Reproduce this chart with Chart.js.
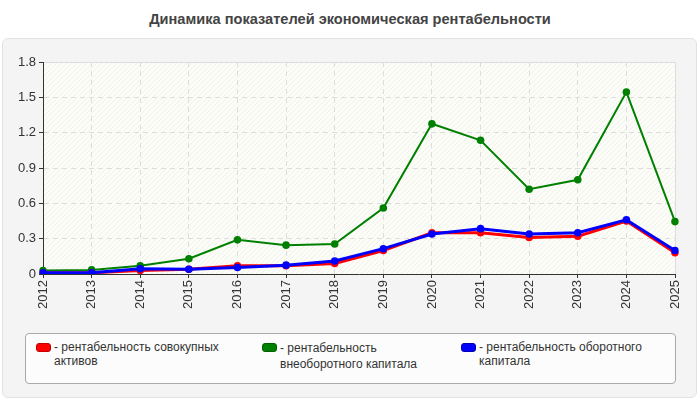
<!DOCTYPE html>
<html>
<head>
<meta charset="utf-8">
<script src="https://cdn.jsdelivr.net/npm/chart.js@4"></script>
<style>
    body { margin: 0; background: #fff; font-family: "Liberation Sans", Arial, sans-serif; }
    #wrap { position: relative; width: 700px; height: 400px; overflow: hidden; }
    #title { position: absolute; top: 11px; left: 0; width: 700px; text-align: center;
        font-family: "Liberation Sans Narrow", "Liberation Sans", sans-serif;
        font-weight: bold; font-size: 14.6px; color: #444; }
    #panel { position: absolute; left: 2px; top: 38px; width: 693px; height: 358px;
        background: #f4f4f4; border: 1px solid #e2e2e2; border-radius: 6px; }
    #chartBox { position: absolute; left: 0; top: 0; width: 700px; height: 320px; }
    #legend { position: absolute; left: 25px; top: 333px; width: 649px; height: 49px;
        background: #fcfcfc; border: 1px solid #aaa; border-radius: 4px; }
    .item { position: absolute; top: 6px; font-size: 12px; color: #333; line-height: 14px; padding-left: 18px; }
    .sw { position: absolute; left: 0; top: 3px; width: 13px; height: 7px; border-radius: 3px; }
</style>
</head>
<body>
<div id="wrap">
    <div id="title">Динамика показателей экономическая рентабельности</div>
    <div id="panel"></div>
    <div id="chartBox"><canvas id="chart" width="700" height="320"></canvas></div>
    <div id="legend"></div>
</div>
<script>
// Data
const years = ['2012', '2013', '2014', '2015', '2016', '2017', '2018', '2019', '2020', '2021', '2022', '2023', '2024', '2025'];
const totalAssets = [0.01, 0.01, 0.03, 0.04, 0.07, 0.07, 0.09, 0.20, 0.35, 0.35, 0.31, 0.32, 0.45, 0.18];
const fixedCapital = [0.03, 0.035, 0.07, 0.13, 0.29, 0.245, 0.255, 0.56, 1.275, 1.135, 0.72, 0.80, 1.545, 0.445];
const workingCapital = [0.01, 0.01, 0.045, 0.04, 0.055, 0.075, 0.11, 0.215, 0.34, 0.385, 0.34, 0.35, 0.46, 0.20];
const seriesNames = [
    '- рентабельность совокупных активов',
    '- рентабельность внеоборотного капитала',
    '- рентабельность оборотного капитала'
];
const legendLines = [
    ['- рентабельность совокупных', 'активов'],
    ['- рентабельность', 'внеоборотного капитала'],
    ['- рентабельность оборотного', 'капитала']
];
const colors = ['#ff0000', '#008000', '#0000ff'];
const swatchBorders = ['#c00000', '#006000', '#0000b0'];

// Legend (HTML)
const legendX = [10, 236, 435];
const legendEl = document.getElementById('legend');
legendLines.forEach((lines, i) => {
    const d = document.createElement('div');
    d.className = 'item';
    d.style.left = legendX[i] + 'px';
    if (i === 1) d.style.lineHeight = '16px';
    d.innerHTML = '<span class="sw" style="background:' + colors[i] + ';border:1px solid ' + swatchBorders[i] + '"></span>' + lines.join('<br>');
    legendEl.appendChild(d);
});

// Hatched plot background
function makePattern() {
    const c = document.createElement('canvas');
    c.width = 5; c.height = 5;
    const g = c.getContext('2d');
    g.fillStyle = '#fdfdf8';
    g.fillRect(0, 0, 5, 5);
    g.strokeStyle = '#f0f0ee';
    g.lineWidth = 1;
    g.beginPath();
    g.moveTo(0, 5); g.lineTo(5, 0);
    g.moveTo(-2.5, 2.5); g.lineTo(2.5, -2.5);
    g.moveTo(2.5, 7.5); g.lineTo(7.5, 2.5);
    g.stroke();
    return g.createPattern(c, 'repeat');
}

const plotBg = {
    id: 'plotBg',
    beforeDraw(chart) {
        const a = chart.chartArea;
        const ctx = chart.ctx;
        ctx.save();
        ctx.fillStyle = makePattern();
        ctx.fillRect(a.left, a.top, a.right - a.left, a.bottom - a.top);
        ctx.strokeStyle = '#dddddd';
        ctx.lineWidth = 1;
        ctx.beginPath();
        ctx.moveTo(a.left, a.top + 0.5);
        ctx.lineTo(a.right + 0.5, a.top + 0.5);
        ctx.lineTo(a.right + 0.5, a.bottom);
        ctx.stroke();
        ctx.restore();
    }
};

function ds(label, data, color, width, order) {
    return {
        label: label,
        data: data,
        borderColor: color,
        backgroundColor: color,
        borderWidth: width,
        pointRadius: 3.8,
        pointHoverRadius: 3.8,
        pointBorderWidth: 0,
        tension: 0,
        fill: false,
        order: order
    };
}

new Chart(document.getElementById('chart').getContext('2d'), {
    type: 'line',
    data: {
        labels: years,
        datasets: [
            ds(seriesNames[0], totalAssets, colors[0], 3, 2),
            ds(seriesNames[1], fixedCapital, colors[1], 2, 3),
            ds(seriesNames[2], workingCapital, colors[2], 3, 1)
        ]
    },
    plugins: [plotBg],
    options: {
        responsive: false,
        animation: false,
        layout: { padding: { top: 62, right: 25, left: 0, bottom: 0 } },
        plugins: {
            legend: { display: false },
            tooltip: { enabled: false }
        },
        scales: {
            y: {
                min: 0,
                max: 1.8,
                afterFit: s => { s.width = 43; },
                ticks: {
                    stepSize: 0.3,
                    color: '#333',
                    font: { family: 'Liberation Sans', size: 13 },
                    padding: 3,
                    callback: v => Math.round(v * 10) / 10
                },
                grid: { color: '#dddddd', tickColor: '#333', tickLength: 4, drawTicks: true },
                border: { color: '#333', width: 1, dash: [5, 4] }
            },
            x: {
                offset: false,
                afterFit: s => { s.height = 46; },
                ticks: {
                    color: '#333',
                    font: { family: 'Liberation Sans', size: 13 },
                    minRotation: 90,
                    maxRotation: 90,
                    padding: 2,
                    autoSkip: false
                },
                grid: { color: '#dddddd', tickColor: '#333', tickLength: 4 },
                border: { color: '#333', width: 1, dash: [5, 4] }
            }
        }
    }
});
</script>
</body>
</html>
